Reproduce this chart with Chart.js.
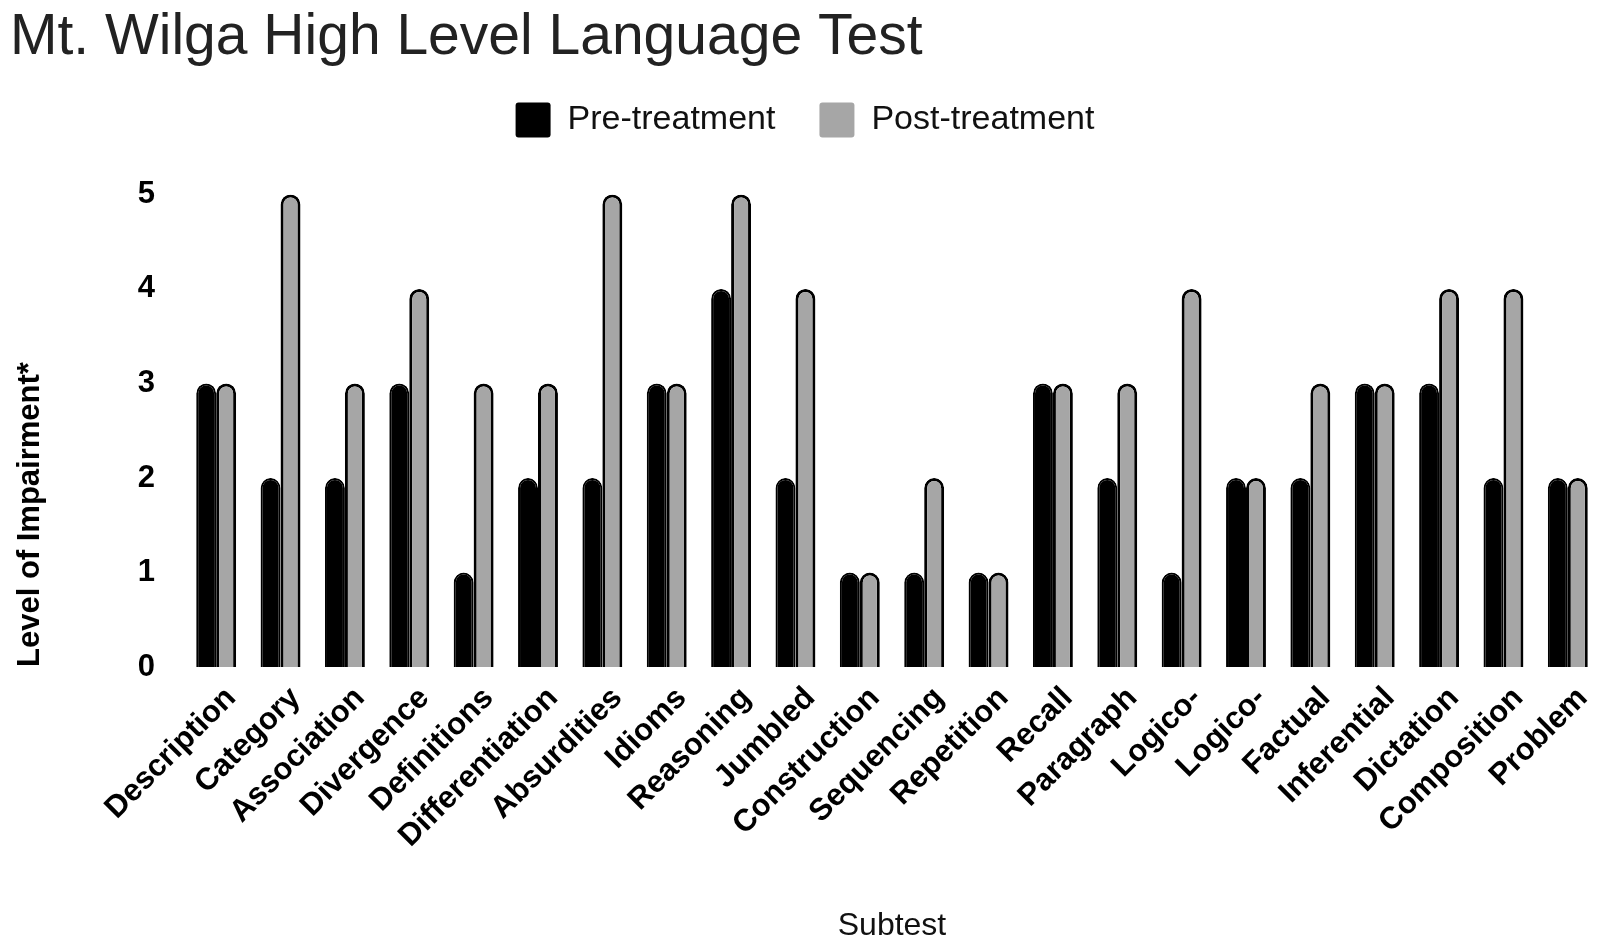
<!DOCTYPE html>
<html>
<head>
<meta charset="utf-8">
<script src="https://cdn.jsdelivr.net/npm/chart.js@4/dist/chart.umd.min.js"></script>
<style>
  html, body { margin: 0; padding: 0; background: #ffffff; }
  #wrap { width: 1601px; height: 950px; position: relative; }
</style>
</head>
<body>
<div id="wrap"><canvas id="c"></canvas></div>
<script>
const categories = ["Description", "Category", "Association", "Divergence", "Definitions", "Differentiation", "Absurdities", "Idioms", "Reasoning", "Jumbled", "Construction", "Sequencing", "Repetition", "Recall", "Paragraph", "Logico-", "Logico-", "Factual", "Inferential", "Dictation", "Composition", "Problem"];
const preTreatment  = [3, 2, 2, 3, 1, 2, 2, 3, 4, 2, 1, 1, 1, 3, 2, 1, 2, 2, 3, 3, 2, 2];
const postTreatment = [3, 5, 3, 4, 3, 3, 5, 3, 5, 4, 1, 2, 1, 3, 3, 4, 2, 3, 3, 4, 4, 2];
const yTicks = [0, 1, 2, 3, 4, 5];

const FONT = "'Liberation Sans', Arial, Helvetica, sans-serif";

const legendSpacer = {
  id: 'legendSpacer',
  beforeLayout(chart) {
    if (chart.legend && !chart.legend._spaced) {
      const f = chart.legend.fit;
      chart.legend.fit = function () { f.call(this); this.height += 47; };
      chart.legend._spaced = true;
    }
  }
};

new Chart(document.getElementById('c'), {
  type: 'bar',
  data: {
    labels: categories,
    datasets: [
      {
        label: 'Pre-treatment',
        data: preTreatment,
        backgroundColor: '#000000',
        borderColor: '#000000',
        borderWidth: 2,
        borderSkipped: 'bottom',
        borderRadius: { topLeft: 10, topRight: 10, bottomLeft: 0, bottomRight: 0 },
        categoryPercentage: 0.62,
        barPercentage: 1.0
      },
      {
        label: 'Post-treatment',
        data: postTreatment,
        backgroundColor: '#a6a6a6',
        borderColor: '#000000',
        borderWidth: 3,
        borderSkipped: 'bottom',
        borderRadius: { topLeft: 10, topRight: 10, bottomLeft: 0, bottomRight: 0 },
        categoryPercentage: 0.62,
        barPercentage: 1.0
      }
    ]
  },
  options: {
    responsive: true,
    maintainAspectRatio: false,
    animation: false,
    devicePixelRatio: 1,
    layout: { padding: { top: 0, left: 10, right: 1, bottom: 0 } },
    plugins: {
      title: {
        display: true,
        text: 'Mt. Wilga High Level Language Test',
        align: 'start',
        color: '#222222',
        font: { family: FONT, size: 57, weight: 'normal' },
        padding: { top: 4, bottom: -14 }
      },
      legend: {
        display: true,
        position: 'top',
        labels: {
          color: '#111111',
          font: { family: FONT, size: 34, weight: 'normal' },
          boxWidth: 35,
          boxHeight: 35,
          padding: 44,
          useBorderRadius: true,
          borderRadius: 3,
          generateLabels(chart) {
            const items = Chart.defaults.plugins.legend.labels.generateLabels(chart);
            return items.map(it => Object.assign(it, { lineWidth: 0, strokeStyle: it.fillStyle, borderRadius: 3 }));
          }
        }
      },
      tooltip: { enabled: false }
    },
    scales: {
      x: {
        offset: true,
        grid: { display: false, drawTicks: false },
        border: { display: false },
        ticks: {
          autoSkip: false,
          minRotation: 45,
          maxRotation: 45,
          color: '#000000',
          padding: 13,
          labelOffset: 15,
          font: { family: FONT, size: 31, weight: 'bold' }
        },
        title: {
          display: true,
          text: 'Subtest',
          color: '#111111',
          font: { family: FONT, size: 32, weight: 'normal' },
          padding: { top: 4, bottom: 5 }
        },
        afterFit(scale) { scale.height = 283; scale.paddingLeft = 0; scale.paddingRight = 0; }
      },
      y: {
        min: 0,
        max: 5,
        grid: { display: false, drawTicks: false },
        border: { display: false },
        afterBuildTicks(scale) { scale.ticks = yTicks.map(v => ({ value: v })); },
        ticks: {
          color: '#000000',
          padding: 29,
          font: { family: FONT, size: 31, weight: 'bold' }
        },
        title: {
          display: true,
          text: 'Level of Impairment*',
          align: 'start',
          color: '#000000',
          font: { family: FONT, size: 31, weight: 'bold' },
          padding: { top: 2, bottom: 0 }
        },
        afterFit(scale) { scale.width = 174; scale.paddingTop = 0; scale.paddingBottom = 0; }
      }
    }
  },
  plugins: [legendSpacer]
});
</script>
</body>
</html>
